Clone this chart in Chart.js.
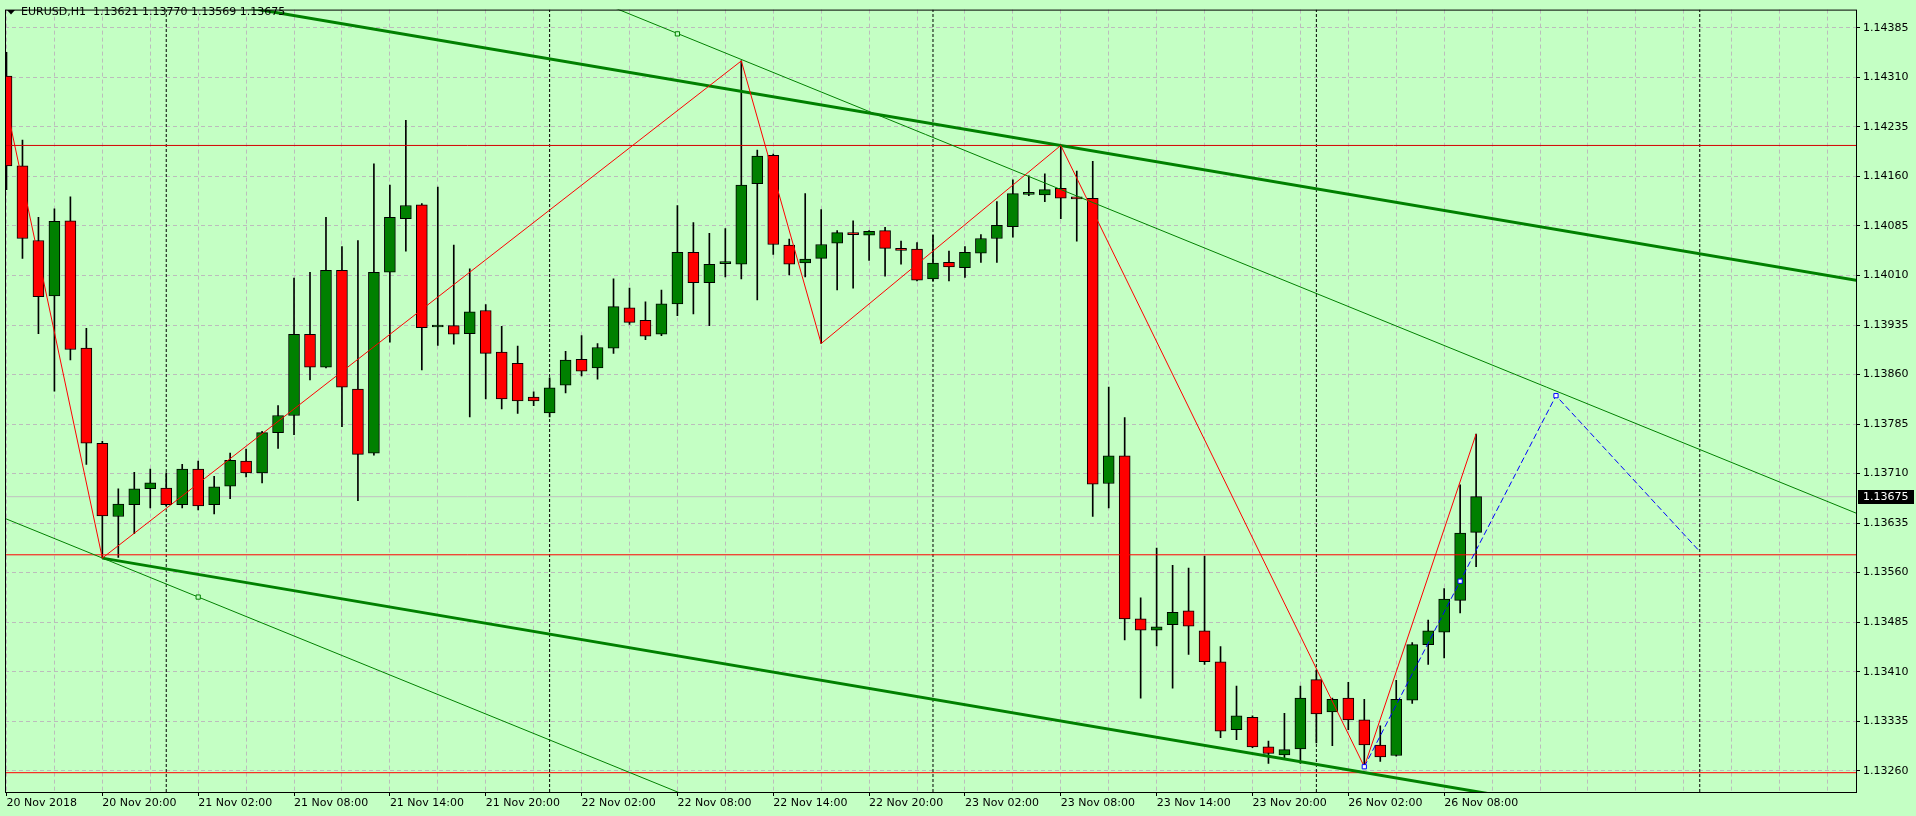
<!DOCTYPE html>
<html>
<head>
<meta charset="utf-8">
<title>EURUSD,H1</title>
<script src="https://cdn.jsdelivr.net/npm/chart.js@4.4.1/dist/chart.umd.min.js"></script>
<style>
html, body { margin: 0; padding: 0; background: #c4ffc4; overflow: hidden; }
#wrap { width: 1916px; height: 816px; }
</style>
</head>
<body>
<div id="wrap"><canvas id="chart" width="1916" height="816"></canvas></div>
<script>
// EURUSD H1, bar 0 = 20 Nov 14:00
const symbolName = 'EURUSD,H1';
const candleOpen = [
  1.14312, 1.14176, 1.14063, 1.13979, 1.14093, 1.13900, 1.13756, 1.13645, 1.13663, 1.13687,
  1.13688, 1.13663, 1.13717, 1.13663, 1.13691, 1.13729, 1.13711, 1.13772, 1.13798, 1.13921,
  1.13871, 1.14018, 1.13838, 1.13741, 1.14015, 1.14096, 1.14117, 1.13932, 1.13934, 1.13922,
  1.13957, 1.13894, 1.13877, 1.13826, 1.13802, 1.13844, 1.13883, 1.13870, 1.13900, 1.13961,
  1.13942, 1.13921, 1.13967, 1.14045, 1.13999, 1.14028, 1.14027, 1.14149, 1.14192, 1.14056,
  1.14029, 1.14036, 1.14059, 1.14075, 1.14071, 1.14078, 1.14051, 1.14050, 1.14005, 1.14030,
  1.14022, 1.14044, 1.14066, 1.14084, 1.14133, 1.14132, 1.14142, 1.14129, 1.14127, 1.13695,
  1.13737, 1.13490, 1.13473, 1.13481, 1.13502, 1.13472, 1.13425, 1.13322, 1.13341, 1.13296,
  1.13284, 1.13293, 1.13398, 1.13349, 1.13370, 1.13337, 1.13299, 1.13283, 1.13367, 1.13451,
  1.13470, 1.13518, 1.13621
];
const candleHigh = [
  1.14348, 1.14215, 1.14098, 1.14111, 1.14129, 1.13930, 1.13759, 1.13687, 1.13712, 1.13717,
  1.13711, 1.13724, 1.13729, 1.13706, 1.13741, 1.13747, 1.13774, 1.13813, 1.14006, 1.14015,
  1.14098, 1.14054, 1.14063, 1.14179, 1.14147, 1.14245, 1.14119, 1.14144, 1.14056, 1.14020,
  1.13966, 1.13933, 1.13903, 1.13834, 1.13855, 1.13895, 1.13919, 1.13907, 1.14005, 1.13991,
  1.13970, 1.13988, 1.14116, 1.14090, 1.14074, 1.14081, 1.14335, 1.14200, 1.14194, 1.14065,
  1.14134, 1.14110, 1.14078, 1.14093, 1.14078, 1.14083, 1.14062, 1.14060, 1.14071, 1.14047,
  1.14054, 1.14072, 1.14122, 1.14155, 1.14161, 1.14164, 1.14207, 1.14168, 1.14183, 1.13841,
  1.13795, 1.13522, 1.13597, 1.13571, 1.13567, 1.13585, 1.13448, 1.13388, 1.13343, 1.13305,
  1.13347, 1.13388, 1.13412, 1.13370, 1.13394, 1.13368, 1.13328, 1.13397, 1.13454, 1.13488,
  1.13536, 1.13693, 1.13770
];
const candleLow = [
  1.14140, 1.14036, 1.13922, 1.13835, 1.13882, 1.13724, 1.13582, 1.13583, 1.13619, 1.13658,
  1.13661, 1.13658, 1.13655, 1.13649, 1.13672, 1.13705, 1.13696, 1.13748, 1.13769, 1.13852,
  1.13870, 1.13781, 1.13669, 1.13738, 1.13909, 1.14047, 1.13867, 1.13904, 1.13906, 1.13796,
  1.13823, 1.13808, 1.13801, 1.13813, 1.13796, 1.13832, 1.13858, 1.13853, 1.13892, 1.13936,
  1.13913, 1.13919, 1.13949, 1.13952, 1.13934, 1.14008, 1.14005, 1.13973, 1.14042, 1.14011,
  1.14008, 1.13907, 1.13988, 1.13991, 1.14033, 1.14009, 1.14027, 1.14002, 1.14002, 1.14002,
  1.14007, 1.14030, 1.14030, 1.14068, 1.14131, 1.14122, 1.14096, 1.14062, 1.13645, 1.13658,
  1.13458, 1.13370, 1.13449, 1.13385, 1.13436, 1.13421, 1.13310, 1.13307, 1.13295, 1.13271,
  1.13278, 1.13271, 1.13302, 1.13298, 1.13322, 1.13266, 1.13274, 1.13282, 1.13362, 1.13421,
  1.13431, 1.13499, 1.13569
];
const candleClose = [
  1.14176, 1.14066, 1.13978, 1.14092, 1.13898, 1.13756, 1.13646, 1.13664, 1.13687, 1.13696,
  1.13663, 1.13717, 1.13661, 1.13690, 1.13730, 1.13711, 1.13772, 1.13798, 1.13921, 1.13871,
  1.14018, 1.13841, 1.13739, 1.14015, 1.14098, 1.14116, 1.13931, 1.13932, 1.13921, 1.13955,
  1.13892, 1.13823, 1.13820, 1.13820, 1.13840, 1.13882, 1.13865, 1.13901, 1.13963, 1.13939,
  1.13918, 1.13967, 1.14045, 1.13999, 1.14027, 1.14028, 1.14147, 1.14191, 1.14057, 1.14027,
  1.14035, 1.14057, 1.14075, 1.14072, 1.14077, 1.14051, 1.14048, 1.14003, 1.14029, 1.14023,
  1.14045, 1.14066, 1.14086, 1.14134, 1.14133, 1.14140, 1.14127, 1.14126, 1.13694, 1.13737,
  1.13490, 1.13473, 1.13478, 1.13500, 1.13479, 1.13425, 1.13320, 1.13343, 1.13296, 1.13286,
  1.13292, 1.13370, 1.13346, 1.13368, 1.13337, 1.13299, 1.13281, 1.13368, 1.13451, 1.13472,
  1.13520, 1.13620, 1.13675
];

// time axis: one label every 6 bars, starting at bar 0
const timeLabels = [
  '20 Nov 2018', '20 Nov 20:00', '21 Nov 02:00', '21 Nov 08:00', '21 Nov 14:00', '21 Nov 20:00',
  '22 Nov 02:00', '22 Nov 08:00', '22 Nov 14:00', '22 Nov 20:00', '23 Nov 02:00', '23 Nov 08:00',
  '23 Nov 14:00', '23 Nov 20:00', '26 Nov 02:00', '26 Nov 08:00'
];
const labelEvery = 6;
const gridEvery = 3;
const dayStartBars = [10, 34, 58, 82, 106];
const priceTicks = [
  1.13260, 1.13335, 1.13410, 1.13485, 1.13560, 1.13635, 1.13710, 1.13785,
  1.13860, 1.13935, 1.14010, 1.14085, 1.14160, 1.14235, 1.14310, 1.14385
];

// drawn objects
const zigzagBars = [-1, 6, 46, 51, 66, 85, 92];
const zigzagPrices = [1.14380, 1.13582, 1.14335, 1.13907, 1.14207, 1.13266, 1.13770];
const levelPrices = [1.14207, 1.13587, 1.13257];
const upperChannelBars = [15, 116];
const upperChannelPrices = [1.14416, 1.14002];
const lowerChannelBars = [6, 96];
const lowerChannelPrices = [1.13582, 1.13212];
const fanUpperBars = [38, 116];
const fanUpperPrices = [1.14416, 1.13648];
const fanLowerBars = [-1, 43];
const fanLowerPrices = [1.13651, 1.13218];
const fanMarkBars = [12, 42];
const fanMarkPrices = [1.13523, 1.14376];
const projBars = [85, 97, 106];
const projPrices = [1.13266, 1.13828, 1.13592];
const projMarkBars = [85, 91, 97];
const projMarkPrices = [1.13266, 1.13547, 1.13828];

// visible window
const xMin = -0.09375, xMax = 115.78125;
const yMin = 1.1322775, yMax = 1.1441275;

const bgColor = '#c4ffc4';
const bullColor = '#008000';
const bearColor = '#ff0000';
const gridColor = '#bcbcbc';
const axisFont = { family: 'DejaVu Sans', size: 11 };

const lastIdx = candleClose.length - 1;
const lastClose = candleClose[lastIdx];

function pts(xs, ys) {
  return xs.map((x, i) => ({ x: x, y: ys[i] }));
}
function lineSet(data, color, width, order, extra) {
  return Object.assign({
    type: 'line', data: data, borderColor: color, borderWidth: width,
    pointRadius: 0, fill: false, tension: 0, order: order
  }, extra || {});
}
function isLabelBar(v) {
  return v % labelEvery === 0 && v / labelEvery < timeLabels.length;
}

const datasets = [];
dayStartBars.forEach(b => {
  datasets.push(lineSet(pts([b, b], [yMin, yMax]), '#000', 1, 50, { borderDash: [3, 2] }));
});
datasets.push(lineSet(pts([-1, 117], [lastClose, lastClose]), '#c0c0c0', 1, 40));
datasets.push({
  type: 'bar', label: 'wicks', order: 30, grouped: false,
  data: candleHigh.map((h, i) => ({ x: i, y: [candleLow[i], h] })),
  backgroundColor: '#000', borderWidth: 0, barThickness: 1
});
datasets.push({
  type: 'bar', label: 'bodies', order: 29, grouped: false,
  data: candleOpen.map((o, i) => ({ x: i, y: [o, candleClose[i]] })),
  backgroundColor: candleOpen.map((o, i) => candleClose[i] >= o ? bullColor : bearColor),
  borderColor: '#000', borderWidth: 1, borderSkipped: false,
  barThickness: 11, minBarLength: 2
});
datasets.push(lineSet(pts([-1, 117], [levelPrices[0], levelPrices[0]]), '#d40000', 1, 5));
datasets.push(lineSet(pts([-1, 117], [levelPrices[1], levelPrices[1]]), '#ff0000', 1, 5));
datasets.push(lineSet(pts([-1, 117], [levelPrices[2], levelPrices[2]]), '#ff0000', 1, 5));
datasets.push(lineSet(pts(upperChannelBars, upperChannelPrices), bullColor, 3, 4));
datasets.push(lineSet(pts(lowerChannelBars, lowerChannelPrices), bullColor, 3, 4));
datasets.push(lineSet(pts(fanUpperBars, fanUpperPrices), bullColor, 1, 4));
datasets.push(lineSet(pts(fanLowerBars, fanLowerPrices), bullColor, 1, 4));
datasets.push(lineSet(pts(zigzagBars, zigzagPrices), '#ff0000', 1, 3));
datasets.push(lineSet(pts(projBars, projPrices), '#0000ff', 1, 2, { borderDash: [6, 3] }));
datasets.push(lineSet(pts(fanMarkBars, fanMarkPrices), bullColor, 1, 1, {
  showLine: false, pointRadius: 3, pointStyle: 'rect', pointBackgroundColor: bgColor, pointBorderWidth: 1
}));
datasets.push(lineSet(pts(projMarkBars, projMarkPrices), '#0000ff', 1, 1, {
  showLine: false, pointRadius: 3, pointStyle: 'rect', pointBackgroundColor: '#ffffff', pointBorderWidth: 1
}));

const backdrop = {
  id: 'backdrop',
  beforeDraw(chart) {
    const c = chart.ctx;
    c.save();
    c.fillStyle = bgColor;
    c.fillRect(0, 0, chart.width, chart.height);
    c.restore();
  }
};

const frame = {
  id: 'frame',
  afterDraw(chart) {
    const c = chart.ctx, a = chart.chartArea;
    c.save();
    c.strokeStyle = '#000';
    c.lineWidth = 1;
    c.strokeRect(a.left + 0.5, a.top + 0.5, a.right - a.left, a.bottom - a.top);

    // header: symbol and OHLC of the last bar
    c.fillStyle = '#000';
    c.beginPath();
    c.moveTo(7, 10); c.lineTo(15, 10); c.lineTo(11, 14.5); c.closePath();
    c.fill();
    c.font = '11px "DejaVu Sans"';
    c.textBaseline = 'middle';
    c.textAlign = 'left';
    const ohlc = [candleOpen[lastIdx], candleHigh[lastIdx], candleLow[lastIdx], candleClose[lastIdx]]
      .map(v => v.toFixed(5)).join(' ');
    c.fillText(symbolName + '  ' + ohlc, 21, 12.5);

    // last price tag on the price scale
    const y = Math.round(chart.scales.y.getPixelForValue(lastClose));
    c.fillStyle = '#000';
    c.fillRect(a.right + 2, y - 7, 56, 14);
    c.fillStyle = '#fff';
    c.fillText(lastClose.toFixed(5), a.right + 7, y + 0.5);
    c.restore();
  }
};

new Chart(document.getElementById('chart'), {
  type: 'bar',
  data: { datasets: datasets },
  options: {
    responsive: false,
    animation: false,
    devicePixelRatio: 1,
    layout: { padding: { left: 2, top: 2, right: 0, bottom: 0 } },
    plugins: { legend: { display: false }, tooltip: { enabled: false } },
    scales: {
      x: {
        type: 'linear', min: xMin, max: xMax, offset: false,
        grid: {
          offset: false, color: gridColor, lineWidth: 1, borderDash: [4, 3],
          tickLength: 4, tickBorderDash: [],
          tickColor: c => (c.tick && isLabelBar(c.tick.value)) ? '#000' : 'rgba(0,0,0,0)'
        },
        border: { display: false, dash: [4, 3] },
        ticks: {
          autoSkip: false, maxRotation: 0, minRotation: 0, align: 'start', padding: 1,
          color: '#000', font: axisFont,
          callback: v => isLabelBar(v) ? timeLabels[v / labelEvery] : ''
        },
        afterBuildTicks: s => {
          const t = [];
          for (let b = 0; b <= xMax; b += gridEvery) t.push({ value: b });
          s.ticks = t;
        },
        afterFit: s => { s.height = 24; }
      },
      y: {
        type: 'linear', position: 'right', min: yMin, max: yMax,
        grid: {
          color: gridColor, lineWidth: 1, borderDash: [4, 3],
          tickLength: 4, tickBorderDash: [], tickColor: '#000'
        },
        border: { display: false, dash: [4, 3] },
        ticks: {
          padding: 3, color: '#000', font: axisFont,
          callback: v => Number(v).toFixed(5)
        },
        afterBuildTicks: s => { s.ticks = priceTicks.map(v => ({ value: v })); },
        afterFit: s => { s.width = 60; }
      }
    }
  },
  plugins: [backdrop, frame]
});
</script>
</body>
</html>
